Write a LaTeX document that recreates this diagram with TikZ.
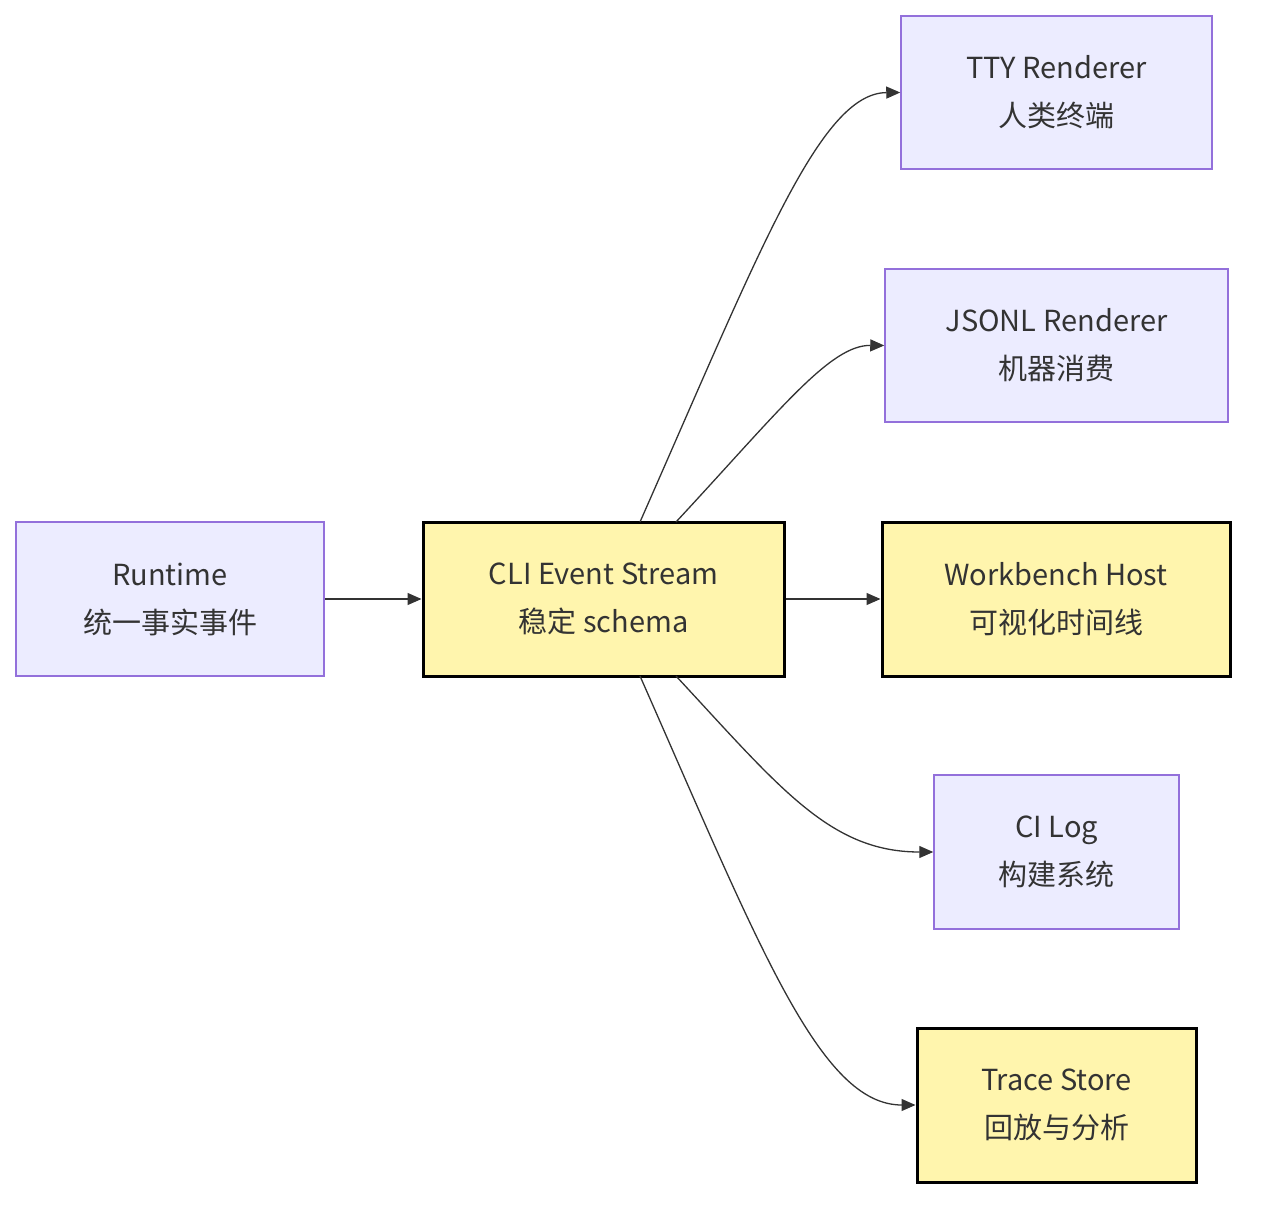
\documentclass[tikz,border=0pt]{standalone}
\usepackage{fontspec}
\setmainfont{Noto Sans CJK SC}
\usetikzlibrary{arrows.meta}
\definecolor{lav}{HTML}{ECECFF}
\definecolor{lavb}{HTML}{9370DB}
\definecolor{yel}{HTML}{FFF5AD}
\definecolor{ln}{HTML}{333333}
\begin{document}
\begin{tikzpicture}[x=1pt,y=-1pt,
  box/.style={draw=lavb,fill=lav,line width=1.5pt,align=center,inner sep=0pt,font=\fontsize{29}{48}\selectfont,text=ln},
  hl/.style={box,draw=black,fill=yel,line width=3pt},
  ar/.style={draw=ln,line width=1.3pt,-{Triangle[length=14pt,width=12pt]}}]
\useasboundingbox (0,0) rectangle (1262,1212);
\node[box,minimum width=308,minimum height=154] (rt) at (170,599) {Runtime\\统一事实事件};
\node[hl,minimum width=361,minimum height=154] (cli) at (603.5,599) {CLI Event Stream\\稳定 schema};
\node[box,minimum width=311,minimum height=153] (tty) at (1056.5,92.5) {TTY Renderer\\人类终端};
\node[box,minimum width=343,minimum height=153] (js) at (1056.5,345.5) {JSONL Renderer\\机器消费};
\node[hl,minimum width=348,minimum height=154] (wb) at (1056,599) {Workbench Host\\可视化时间线};
\node[box,minimum width=245,minimum height=154] (ci) at (1056.5,852) {CI Log\\构建系统};
\node[hl,minimum width=279,minimum height=154] (ts) at (1056.5,1105) {Trace Store\\回放与分析};
\coordinate (t1) at (640,522);
\coordinate (t2) at (676,522);
\coordinate (b1) at (640,676);
\coordinate (b2) at (676,676);
\draw[ar] (rt.east) -- (cli.west);
\draw[ar] (cli.east) -- (wb.west);
\draw[ar] (t1) .. controls (760,250) and (820,93) .. (tty.west);
\draw[ar] (t2) .. controls (780,410) and (830,345) .. (js.west);
\draw[ar] (b2) .. controls (780,788) and (830,852) .. (ci.west);
\draw[ar] (b1) .. controls (760,948) and (820,1105) .. (ts.west);
\end{tikzpicture}
\end{document}
